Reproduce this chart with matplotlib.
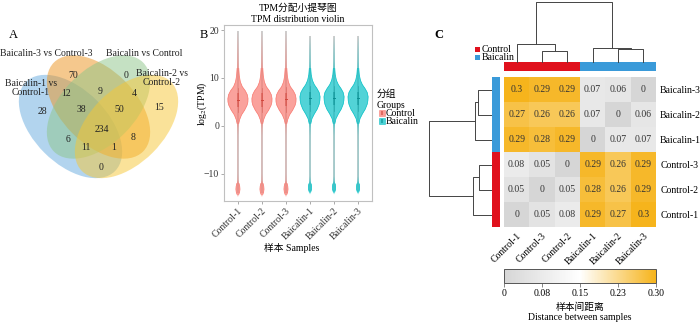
import numpy as np
import matplotlib
matplotlib.use('Agg')
import matplotlib.pyplot as plt
from matplotlib.patches import Ellipse, Rectangle
from matplotlib.colors import LinearSegmentedColormap, ListedColormap

plt.rcParams['font.family'] = ['Liberation Serif', 'Noto Sans CJK SC', 'DejaVu Sans']
plt.rcParams['mathtext.fontset'] = 'stix'

# ---- panel A: venn data ----
venn_sets = ['Baicalin-1 vs\nControl-1', 'Baicalin-3 vs Control-3',
             'Baicalin vs Control', 'Baicalin-2 vs\nControl-2']
venn_colors = ['#66ABDF', '#ED931D', '#8DC589', '#F7C735']
venn_counts = [70, 0, 12, 9, 4, 15, 28, 38, 50, 234, 6, 11, 1, 8, 0]

# ---- panel B: violin data ----
samples = ['Control-1', 'Control-2', 'Control-3', 'Baicalin-1', 'Baicalin-2', 'Baicalin-3']
groups = ['Control', 'Control', 'Control', 'Baicalin', 'Baicalin', 'Baicalin']
ctrl_y = [-14.8, -14.3, -13.8, -13.2, -12.6, -12.0, -11.3, -10, -6, -2, -0.5, 0.5, 1.3, 2.3,
          3.3, 4.3, 5.0, 5.7, 6.5, 7.3, 8.2, 9.2, 10.5, 12, 13.5, 16, 19.8]
ctrl_w = [0, .035, .07, .085, .075, .045, .02, .012, .01, .012, .02, .035, .07, .15,
          .28, .38, .415, .42, .39, .31, .18, .10, .055, .035, .025, .015, 0]
baic_y = [-14.3, -13.8, -13.3, -12.7, -12.1, -11.5, -10.5, -6, -2, -0.5, 0.5, 1.5, 2.5, 3.5,
          4.5, 5.3, 6.1, 7, 7.8, 8.6, 9.5, 10.7, 12, 13.5, 16, 18.8]
baic_w = [0, .03, .06, .065, .05, .025, .012, .01, .012, .02, .035, .08, .18, .30,
          .38, .41, .42, .38, .29, .18, .10, .05, .03, .02, .012, 0]
box_q1 = [4.0, 4.0, 4.1, 4.3, 4.3, 4.3]
box_med = [5.5, 5.5, 5.6, 5.8, 5.8, 5.8]
box_q3 = [6.8, 6.8, 6.9, 7.1, 7.1, 7.1]
grp_col = {'Control': '#F8766D', 'Baicalin': '#00BFC4'}
grp_dark = {'Control': '#D2463C', 'Baicalin': '#0A8E92'}

# ---- panel C: distance heatmap ----
col_names = ['Control-1', 'Control-3', 'Control-2', 'Baicalin-1', 'Baicalin-2', 'Baicalin-3']
row_names = ['Baicalin-3', 'Baicalin-2', 'Baicalin-1', 'Control-3', 'Control-2', 'Control-1']
dist = np.array([
    [0.30, 0.29, 0.29, 0.07, 0.06, 0.00],
    [0.27, 0.26, 0.26, 0.07, 0.00, 0.06],
    [0.29, 0.28, 0.29, 0.00, 0.07, 0.07],
    [0.08, 0.05, 0.00, 0.29, 0.26, 0.29],
    [0.05, 0.00, 0.05, 0.28, 0.26, 0.29],
    [0.00, 0.05, 0.08, 0.29, 0.27, 0.30],
])
col_groups = [0, 0, 0, 1, 1, 1]
row_groups = [1, 1, 1, 0, 0, 0]
# merges: (node a, node b, height), new nodes numbered from 6
col_link = [(1, 2, 11), (0, 6, 18), (4, 5, 13), (3, 8, 14), (7, 9, 60)]
row_link = [(0, 1, 13), (6, 2, 16), (3, 4, 12), (8, 5, 18), (7, 9, 62)]
cb_ticks = [0, 0.075, 0.15, 0.225, 0.30]
cb_labels = ['0', '0.08', '0.15', '0.23', '0.30']
ann_cols = ['#E0111D', '#3A9AD9']

W, H = 700, 323
fig = plt.figure(figsize=(7, 3.23), dpi=100)


def rect(x0, y0, x1, y1):
    return [x0 / W, 1 - y1 / H, (x1 - x0) / W, (y1 - y0) / H]


ov = fig.add_axes([0, 0, 1, 1], zorder=10)
ov.set_xlim(0, W)
ov.set_ylim(H, 0)
ov.axis('off')

# ---------------- A ----------------
centers = [(70.5, 126.5), (98.5, 107), (98.5, 107), (126.5, 126.5)]
angles = [45, 45, -45, -45]
for c, a, col in zip(centers, angles, venn_colors):
    ov.add_patch(Ellipse(c, 126, 74, angle=a, facecolor=col, alpha=0.5, lw=0))
cnt_pos = [(73, 75), (126, 75), (66, 93), (100, 91), (134, 93), (159, 108), (42, 111),
           (81, 110), (119, 110), (102, 129), (68, 140), (86, 147), (114, 148), (133, 138),
           (101, 168)]
for (x, y), n in zip(cnt_pos, venn_counts):
    ov.text(x, y, str(n), ha='center', va='center', fontsize=7, color='#222222')
set_pos = [(31, 88), (46, 53), (144, 53), (162, 78)]
for (x, y), s in zip(set_pos, venn_sets):
    ov.text(x, y, s, ha='center', va='center', fontsize=7, color='#222222', linespacing=1.0)
ov.text(13, 35, 'A', ha='center', va='center', fontsize=9)

# ---------------- B ----------------
axb = fig.add_axes(rect(224, 25, 372, 201))
for i, (s, g) in enumerate(zip(samples, groups)):
    x = i + 1
    ys = np.array(ctrl_y if g == 'Control' else baic_y)
    ws = np.array(ctrl_w if g == 'Control' else baic_w)
    axb.plot([x, x], [ys[0] + 0.8, ys[-1]], color='#C4C4C4', lw=1.4, alpha=0.85, zorder=1,
             solid_capstyle='butt')
    axb.fill_betweenx(ys, x - ws, x + ws, facecolor=grp_col[g], alpha=0.68,
                      edgecolor='none', lw=0, zorder=2)
    # outline only where the violin is visibly wide
    ww = np.where(ws >= 0.03, ws, np.nan)
    axb.plot(x - ww, ys, color=grp_col[g], lw=0.5, zorder=2)
    axb.plot(x + ww, ys, color=grp_col[g], lw=0.5, zorder=2)
    axb.add_patch(Rectangle((x - 0.04, box_q1[i]), 0.08, box_q3[i] - box_q1[i],
                            facecolor=grp_dark[g], alpha=0.45, lw=0, zorder=3))
    axb.plot([x, x], [box_q1[i] - 1.2, box_q3[i] + 1.2], color=grp_dark[g], lw=0.5,
             alpha=0.5, zorder=3)
    axb.plot([x - 0.04, x + 0.04], [box_med[i]] * 2, color=grp_dark[g], lw=0.7, zorder=3)
axb.set_xlim(0.42, 6.58)
axb.set_ylim(-15.66, 21.05)
axb.set_yticks([-10, 0, 10, 20])
axb.set_xticks(range(1, 7))
axb.set_xticklabels(samples, rotation=45, ha='right', rotation_mode='anchor')
axb.tick_params(labelsize=7, length=2, width=0.5, color='#888888', labelcolor='#333333', pad=1.5)
for sp in axb.spines.values():
    sp.set_color('#C0C0C0')
    sp.set_linewidth(0.8)
ov.text(202, 104, 'log$_2$(TPM)', rotation=90, ha='center', va='center', fontsize=7)
ov.text(298, 8, 'TPM分配小提琴图', ha='center', va='center', fontsize=7)
ov.text(298, 19, 'TPM distribution violin', ha='center', va='center', fontsize=7)
ov.text(292, 248, '样本 Samples', ha='center', va='center', fontsize=7)
ov.text(204, 35, 'B', ha='center', va='center', fontsize=9)
ov.text(377, 94, '分组', ha='left', va='center', fontsize=7)
ov.text(377, 105, 'Groups', ha='left', va='center', fontsize=7)
for k, g in enumerate(['Control', 'Baicalin']):
    yy = 110 + 8 * k
    ov.add_patch(Rectangle((379, yy), 6, 6, facecolor=grp_col[g], alpha=0.7,
                           edgecolor=grp_col[g], lw=0.5))
    ov.add_patch(Rectangle((381.3, yy + 1), 1.4, 4, facecolor=grp_dark[g], alpha=0.6, lw=0))
    ov.text(386, yy + 3, g, ha='left', va='center', fontsize=7)

# ---------------- C ----------------
cmap = LinearSegmentedColormap.from_list('dist', ['#D6D6D6', '#FFFFFF', '#F6B41C'])
axh = fig.add_axes(rect(504, 77, 656, 227))
im = axh.imshow(dist, cmap=cmap, vmin=0, vmax=0.30, aspect='auto')
for r in range(6):
    for c in range(6):
        axh.text(c, r, f'{dist[r, c]:g}', ha='center', va='center', fontsize=7, color='#333333')
axh.set_xticks(range(6))
axh.set_xticklabels(col_names, rotation=45, ha='right', rotation_mode='anchor')
axh.set_yticks(range(6))
axh.set_yticklabels(row_names)
axh.yaxis.tick_right()
axh.tick_params(length=0, labelsize=7, pad=3)
for sp in axh.spines.values():
    sp.set_visible(False)

axt = fig.add_axes(rect(504, 62, 656, 71))
axt.imshow(np.array([col_groups]), cmap=ListedColormap(ann_cols), aspect='auto', vmin=0, vmax=1)
axt.axis('off')
axl = fig.add_axes(rect(492, 77, 500, 227))
axl.imshow(np.array(row_groups)[:, None], cmap=ListedColormap(ann_cols), aspect='auto',
           vmin=0, vmax=1)
axl.axis('off')


def draw_dendro(ax, links, n, orient):
    pos = {i: float(i) for i in range(n)}
    hgt = {i: 0.0 for i in range(n)}
    for k, (a, b, h) in enumerate(links):
        xs = [pos[a], pos[a], pos[b], pos[b]]
        ys = [hgt[a], h, h, hgt[b]]
        if orient == 'top':
            ax.plot(xs, ys, color='#444444', lw=0.7, clip_on=False)
        else:
            ax.plot(ys, xs, color='#444444', lw=0.7, clip_on=False)
        pos[n + k] = (pos[a] + pos[b]) / 2
        hgt[n + k] = h


axdt = fig.add_axes(rect(504, 2, 656, 62))
draw_dendro(axdt, col_link, 6, 'top')
axdt.set_xlim(-0.5, 5.5)
axdt.set_ylim(0, 60)
axdt.axis('off')
axdl = fig.add_axes(rect(429, 77, 491, 227))
draw_dendro(axdl, row_link, 6, 'left')
axdl.set_ylim(5.5, -0.5)
axdl.set_xlim(62, 0)
axdl.axis('off')

cax = fig.add_axes(rect(504, 269, 656, 283))
cb = fig.colorbar(im, cax=cax, orientation='horizontal')
cb.set_ticks(cb_ticks)
cb.set_ticklabels(cb_labels)
cb.outline.set_edgecolor('#555555')
cb.outline.set_linewidth(0.7)
cax.tick_params(labelsize=7, length=3, width=0.5, color='#555555', pad=1.5)
ov.text(580, 307, '样本间距离', ha='center', va='center', fontsize=7)
ov.text(580, 318, 'Distance between samples', ha='center', va='center', fontsize=7)

ov.text(439, 35, 'C', ha='center', va='center', fontsize=9, fontweight='bold')
for k, name in enumerate(['Control', 'Baicalin']):
    yy = 47 + 8 * k
    ov.add_patch(Rectangle((475, yy), 5, 5, facecolor=ann_cols[k], lw=0))
    ov.text(482, yy + 2.5, name, ha='left', va='center', fontsize=7)

fig.savefig('out.png', dpi=100)
